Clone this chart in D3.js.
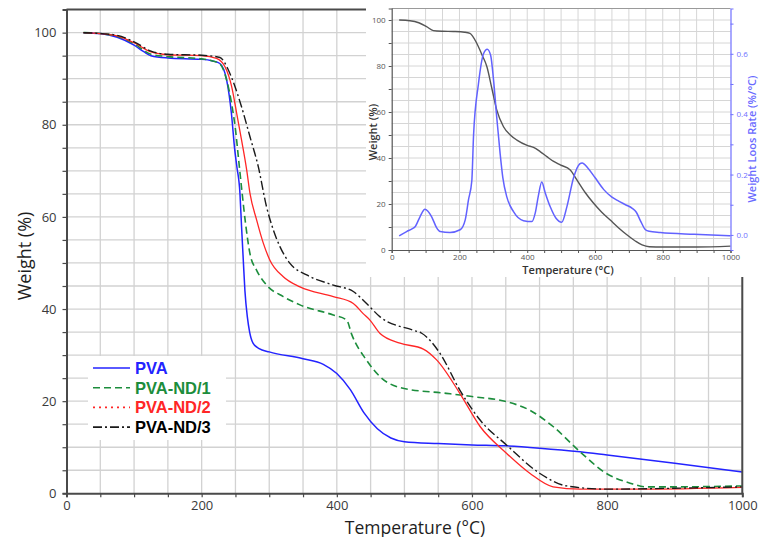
<!DOCTYPE html>
<html>
<head>
<meta charset="utf-8">
<script src="https://cdn.jsdelivr.net/npm/d3@7"></script>
<style>
  body { margin: 0; background: #fff; }
  #chart { width: 760px; height: 537px; }
  text { font-family: "Open Sans", "DejaVu Sans", sans-serif; }
</style>
</head>
<body>
<div id="chart"></div>
<script>
// main TGA curves, [temperature degC, weight %]
var pva = [[25,100],[50,99.8],[75,99.0],[100,97.3],[115,95.8],[125,95.0],[150,94.5],[200,94.2],[215,93.9],[227,93.3],
  [237,89.7],[244,82.5],[249,74.5],[252,71],[256.7,65],[259,58],[261.6,50.6],[264,44],[267.6,38.3],[271,35],[276,32.6],
  [285,31.4],[300,30.7],[350,29.2],[380,28],[400,26],[420,22.5],[440,17.5],[460,14],[480,12],[500,11.2],[550,10.8],
  [600,10.5],[650,10.3],[700,9.8],[760,9.0],[800,8.3],[900,6.5],[1000,4.6]];

var pvaNd1 = [[25,100],[50,99.8],[75,99.2],[100,97.6],[125,95.3],[150,94.8],[200,94.3],[215,93.9],[227,93.2],[237,89.7],
  [245,84],[250,79],[255,72],[260,65],[265,58.5],[271.5,52],[281,48.5],[296,45.2],[320.8,42.7],[345.5,40.9],[394.8,38.7],
  [414.6,37.6],[422,34.5],[444,28.9],[464,25.3],[498,22.8],[562,21.7],[600,21.0],[651,19.9],[686,18],[720,14.5],[760,9],
  [799,4.3],[834,2.2],[858,1.4],[900,1.4],[1000,1.6]];

var pvaNd2 = [[25,100],[50,99.8],[75,99.3],[100,97.8],[125,95.8],[150,95.2],[200,95.0],[222,94.4],[234.5,92.6],[244.4,88.3],
  [251.8,82.5],[259,76.7],[266.6,70.2],[271.5,65.1],[281.4,59.3],[291.2,54.3],[301,50.6],[320.8,47],[345.5,44.8],[394.8,42.7],
  [424.4,41.2],[439,39],[449,37.6],[464,34.7],[493.5,32.6],[528,31.3],[548,28.9],[582,21.7],[612,14.5],[651,8.7],[686,4.3],
  [720,1.4],[760,0.9],[850,0.9],[1000,1.3]];

var pvaNd3 = [[25,100],[50,99.8],[75,99.4],[100,98],[125,96],[150,95.3],[200,95.1],[227,94.6],[239.5,91.9],[246.8,89.3],
  [259,83.9],[271.5,77.4],[283.8,70.9],[296,62.2],[306,57.2],[316,53.5],[330.7,49.9],[355.4,47.4],[394.8,45.2],[424.4,43.8],
  [444,41.2],[464,38.3],[513,35.4],[525,34.8],[552.6,30.4],[582,22.4],[612,15.9],[651,10.5],[700.6,4.3],[740,1.6],[800,0.9],
  [900,1.1],[1000,1.4]];

// inset: TGA weight and DTG weight loss rate
var insetWeight = [[22,100],[54,99.7],[80,98.8],[103,97.1],[123,95.4],[150,95.1],[182,95],[215,94.7],[231,94.2],[251,89.9],
  [266,85],[281,79.7],[296,70],[310,60.9],[330,53.6],[350,50],[369.5,47.8],[400,45.5],[418.6,44.6],[438,42.8],[458,40.6],
  [478,38.5],[497.5,37],[527,34.8],[547,30.4],[571,25],[596,20.3],[620,16.4],[645,13],[670,9.6],[695,6.5],[720,3.8],
  [739,2.2],[760,1.4],[800,1.3],[900,1.3],[1000,1.7]];

var insetRate = [[22,-0.003],[44,0.011],[60,0.02],[69,0.027],[83.5,0.06],[98,0.085],[118,0.06],[132,0.025],[143,0.011],
  [172,0.008],[202,0.017],[217,0.05],[226.6,0.116],[236.5,0.18],[241.6,0.33],[256,0.5],[271,0.6],[282,0.615],[292,0.595],
  [300,0.52],[310,0.39],[320,0.27],[328,0.19],[340,0.125],[359.5,0.077],[389,0.047],[413.8,0.044],[423.6,0.072],[433,0.13],
  [443,0.175],[453,0.14],[468,0.093],[485,0.055],[502,0.042],[517,0.093],[537,0.19],[555,0.235],[562,0.238],[580,0.22],
  [600,0.19],[626,0.15],[650,0.125],[670,0.112],[690,0.1],[710,0.088],[722,0.075],[735,0.045],[749,0.017],[760,0.012],
  [793,0.008],[892,0.002],[1000,-0.003]];

var seriesNames = ["PVA", "PVA-ND/1", "PVA-ND/2", "PVA-ND/3"];
var xTicks = [0, 200, 400, 600, 800, 1000];
var yTicks = [0, 20, 40, 60, 80, 100];
var rateTicks = [0, 0.2, 0.4, 0.6];

var svg = d3.select("#chart").append("svg")
    .attr("width", 760)
    .attr("height", 537);

//////////////// main chart ////////////////
var x = d3.scaleLinear().domain([0, 1000]).range([66.5, 742.3]);
var y = d3.scaleLinear().domain([0, 105]).range([493.3, 9.6]);

var grid = svg.append("g").attr("class", "grid");
grid.selectAll(".vg")
    .data(d3.range(50, 1001, 50))
    .enter().append("line")
    .attr("x1", function(d){ return x(d); })
    .attr("x2", function(d){ return x(d); })
    .attr("y1", y(0)).attr("y2", y(105))
    .style("stroke", "#d2d2d2").style("stroke-width", 1.3);
grid.selectAll(".hg")
    .data(d3.range(5, 105, 5))
    .enter().append("line")
    .attr("x1", x(0)).attr("x2", x(1000))
    .attr("y1", function(d){ return y(d); })
    .attr("y2", function(d){ return y(d); })
    .style("stroke", "#d2d2d2").style("stroke-width", 1.3);

// legend background hides the grid
svg.append("rect")
    .attr("x", 88).attr("y", 356)
    .attr("width", 138).attr("height", 84)
    .style("fill", "white");

var styles = [
    {data: pva, color: "#2323ff", dash: null, width: 1.5, legendDash: null},
    {data: pvaNd1, color: "#1c8d3c", dash: "7,4", width: 1.6, legendDash: "7,4"},
    {data: pvaNd2, color: "#ff2626", dash: null, width: 1.3, legendDash: "2,4"},
    {data: pvaNd3, color: "#1a1a1a", dash: "9,3,2,3", width: 1.4, legendDash: "9,3,2,3"}
];

var line = d3.line()
    .x(function(d){ return x(d[0]); })
    .y(function(d){ return y(d[1]); })
    .curve(d3.curveMonotoneX);

svg.append("g").selectAll("path")
    .data(styles)
    .enter().append("path")
    .attr("d", function(d){ return line(d.data); })
    .style("fill", "none")
    .style("stroke", function(d){ return d.color; })
    .style("stroke-width", function(d){ return d.width; })
    .style("stroke-dasharray", function(d){ return d.dash; });

// axes
var xAxis = d3.axisBottom(x).tickValues(d3.range(0, 1001, 50)).tickSize(4)
    .tickFormat(function(d){ return d % 200 === 0 ? d : ""; });
var yAxis = d3.axisLeft(y).tickValues(d3.range(0, 101, 5)).tickSize(4)
    .tickFormat(function(d){ return d % 20 === 0 ? d : ""; });

var gx = svg.append("g").attr("transform", "translate(0," + y(0) + ")").call(xAxis);
var gy = svg.append("g").attr("transform", "translate(" + x(0) + ",0)").call(yAxis);
[gx, gy].forEach(function(g){
    g.select(".domain").style("stroke", "#4a4a4a").style("stroke-width", 2);
    g.selectAll(".tick line").style("stroke", "#4a4a4a").style("stroke-width", 1.2);
    g.selectAll(".tick text").style("font-size", "13px").style("fill", "#3a3a3a")
        .style("font-family", "'Open Sans', sans-serif");
});
gx.selectAll(".tick text").attr("dy", "0.74em");
gy.selectAll(".tick text").attr("x", -10);

// frame top and right
svg.append("line").attr("x1", x(0)).attr("x2", x(1000)).attr("y1", y(105)).attr("y2", y(105))
    .style("stroke", "#4a4a4a").style("stroke-width", 2);
svg.append("line").attr("x1", x(1000)).attr("x2", x(1000)).attr("y1", y(0)).attr("y2", y(105))
    .style("stroke", "#4a4a4a").style("stroke-width", 2);

svg.append("text")
    .attr("x", 415).attr("y", 533.5)
    .attr("text-anchor", "middle")
    .style("font-size", "17.5px").style("fill", "#1e1e1e")
    .text("Temperature (°C)");
svg.append("text")
    .attr("transform", "translate(31,256) rotate(-90)")
    .attr("text-anchor", "middle")
    .style("font-size", "18px").style("fill", "#1e1e1e")
    .text("Weight (%)");

// legend
var legend = svg.append("g").selectAll("g")
    .data(styles)
    .enter().append("g")
    .attr("transform", function(d, i){ return "translate(93," + (368 + i * 19.7) + ")"; });
legend.append("line")
    .attr("x1", 0).attr("x2", 37)
    .style("stroke", function(d){ return d.color; })
    .style("stroke-width", 1.6)
    .style("stroke-dasharray", function(d){ return d.legendDash; });
legend.append("text")
    .attr("x", 42).attr("y", 5.8)
    .style("font-family", "'Liberation Sans', Arial, sans-serif")
    .style("font-size", "16.5px").style("font-weight", "bold")
    .style("fill", function(d){ return d.color === "#1a1a1a" ? "#000" : d.color; })
    .text(function(d, i){ return seriesNames[i]; });

//////////////// inset ////////////////
svg.append("rect")
    .attr("x", 366).attr("y", 0)
    .attr("width", 394).attr("height", 277)
    .style("fill", "white");

var ix = d3.scaleLinear().domain([0, 1000]).range([391.7, 730.5]);
var iy = d3.scaleLinear().domain([0, 105]).range([250, 8.5]);
var ir = d3.scaleLinear().domain([-0.05, 0.75]).range([250, 8.5]);

var igrid = svg.append("g");
igrid.selectAll(".ivg")
    .data(d3.range(50, 1000, 50))
    .enter().append("line")
    .attr("x1", function(d){ return ix(d); })
    .attr("x2", function(d){ return ix(d); })
    .attr("y1", iy(0)).attr("y2", iy(105))
    .style("stroke", "#d6d6d6").style("stroke-width", 1);
igrid.selectAll(".ihg")
    .data(d3.range(5, 105, 5))
    .enter().append("line")
    .attr("x1", ix(0)).attr("x2", ix(1000))
    .attr("y1", function(d){ return iy(d); })
    .attr("y2", function(d){ return iy(d); })
    .style("stroke", "#d6d6d6").style("stroke-width", 1);

svg.append("line").attr("x1", ix(0)).attr("x2", ix(1000)).attr("y1", iy(105)).attr("y2", iy(105))
    .style("stroke", "#9a9a9a").style("stroke-width", 1);

svg.append("path")
    .attr("d", d3.line().x(function(d){ return ix(d[0]); }).y(function(d){ return iy(d[1]); })
        .curve(d3.curveMonotoneX)(insetWeight))
    .style("fill", "none").style("stroke", "#555").style("stroke-width", 1.4);
svg.append("path")
    .attr("d", d3.line().x(function(d){ return ix(d[0]); }).y(function(d){ return ir(d[1]); })
        .curve(d3.curveMonotoneX)(insetRate))
    .style("fill", "none").style("stroke", "#6262ff").style("stroke-width", 1.5);

var ixAxis = d3.axisBottom(ix).tickValues(d3.range(0, 1001, 50)).tickSize(3)
    .tickFormat(function(d){ return xTicks.indexOf(d) >= 0 ? d : ""; });
var iyAxis = d3.axisLeft(iy).tickValues(d3.range(0, 101, 10)).tickSize(3)
    .tickFormat(function(d){ return yTicks.indexOf(d) >= 0 ? d : ""; });
var irAxis = d3.axisRight(ir).tickValues([0, 0.1, 0.2, 0.3, 0.4, 0.5, 0.6, 0.7]).tickSize(3)
    .tickFormat(function(d){ return rateTicks.indexOf(d) >= 0 ? d3.format(".1f")(d) : ""; });

var igx = svg.append("g").attr("transform", "translate(0," + iy(0) + ")").call(ixAxis);
var igy = svg.append("g").attr("transform", "translate(" + ix(0) + ",0)").call(iyAxis);
var igr = svg.append("g").attr("transform", "translate(" + ix(1000) + ",0)").call(irAxis);
[igx, igy].forEach(function(g){
    g.select(".domain").style("stroke", "#555").style("stroke-width", 1.2);
    g.selectAll(".tick line").style("stroke", "#555");
    g.selectAll(".tick text").style("font-size", "8px").style("fill", "#555");
});
igx.selectAll(".tick text").attr("y", 4).attr("dy", "0.71em");
igr.select(".domain").style("stroke", "#7070ff").style("stroke-width", 1.2);
igr.selectAll(".tick line").style("stroke", "#7070ff");
igr.selectAll(".tick text").style("font-size", "8px").style("fill", "#7070ff");

svg.append("text")
    .attr("x", 568).attr("y", 274)
    .attr("text-anchor", "middle")
    .style("font-size", "11px").style("font-weight", 600).style("fill", "#333")
    .text("Temperature (°C)");
svg.append("text")
    .attr("transform", "translate(377,132) rotate(-90)")
    .attr("text-anchor", "middle")
    .style("font-size", "11px").style("font-weight", 600).style("fill", "#333")
    .text("Weight (%)");
svg.append("text")
    .attr("transform", "translate(756,139) rotate(-90)")
    .attr("text-anchor", "middle")
    .style("font-size", "11px").style("font-weight", 600).style("fill", "#6a6aff")
    .text("Weight Loos Rate (%/°C)");
</script>
</body>
</html>
